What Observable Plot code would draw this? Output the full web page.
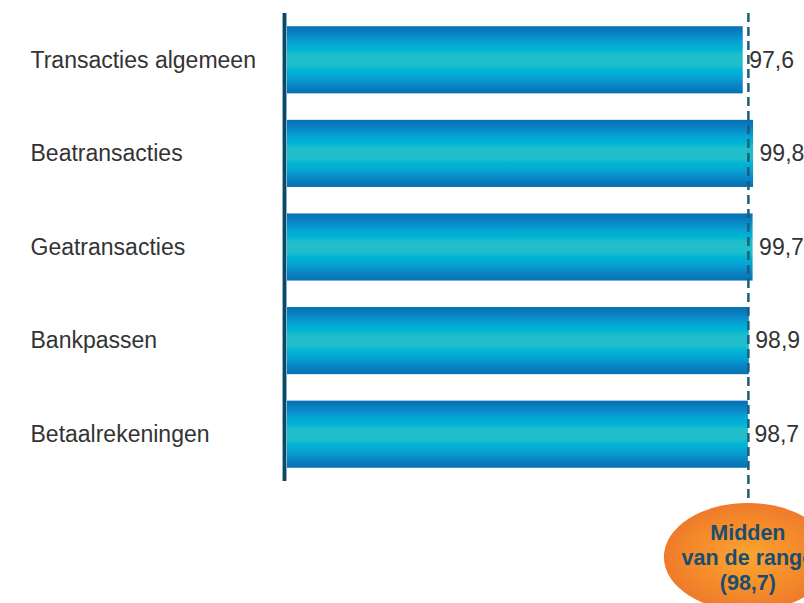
<!DOCTYPE html>
<html>
<head>
<meta charset="utf-8">
<script src="https://cdn.jsdelivr.net/npm/d3@7"></script>
<script src="https://cdn.jsdelivr.net/npm/@observablehq/plot@0.6"></script>
<style>
  html, body { margin: 0; padding: 0; background: #ffffff; }
</style>
</head>
<body>
<div id="chart"></div>
<script>
const categories = ["Transacties algemeen", "Beatransacties", "Geatransacties", "Bankpassen", "Betaalrekeningen"];
const values = [97.6, 99.8, 99.7, 98.9, 98.7];
const midRange = 98.7;
const midLabel = ["Midden", "van de range", "(98,7)"];

const fmt = v => v.toFixed(1).replace(".", ",");
const data = categories.map((c, i) => ({cat: c, value: values[i], label: fmt(values[i])}));

const ellipseMark = (index, scales, vals, dims) => {
  const cx = scales.x(midRange);
  const cy = 557;
  const g = d3.create("svg:g");
  g.append("ellipse")
    .attr("cx", cx).attr("cy", cy).attr("rx", 84).attr("ry", 54)
    .attr("fill", "url(#ellGrad)");
  g.append("text")
    .attr("text-anchor", "middle")
    .attr("font-family", "'Liberation Sans', Arial, sans-serif")
    .attr("font-weight", "bold")
    .attr("font-size", 21.5)
    .attr("fill", "#1b4d6e")
    .selectAll("tspan")
    .data(midLabel)
    .join("tspan")
    .attr("x", cx)
    .attr("y", (d, i) => cy - 25 + i * 25)
    .attr("dy", "0.35em")
    .text(d => d);
  return g.node();
};

const chart = Plot.plot({
  width: 804,
  height: 603,
  marginLeft: 284,
  marginRight: 50,
  marginTop: 13,
  marginBottom: 122,
  style: {fontFamily: "'Liberation Sans', Arial, sans-serif", background: "#ffffff", overflow: "hidden"},
  x: {domain: [0, 100], axis: null},
  y: {domain: categories, axis: null, paddingInner: 0.283, paddingOuter: 0.1415, round: false},
  marks: [
    Plot.barX(data, {y: "cat", x: "value", fill: "url(#barGrad)"}),
    Plot.ruleX([0], {stroke: "#8fb2c4", strokeWidth: 5}),
    Plot.ruleX([0], {stroke: "#0b4866", strokeWidth: 3}),
    Plot.ruleX([midRange], {stroke: "#1d5d78", strokeWidth: 2.5, strokeDasharray: "9,5", insetBottom: -19}),
    Plot.text(data, {y: "cat", x: "value", text: "label", dx: 6, textAnchor: "start", fontSize: 23, fill: "#333333"}),
    Plot.text(data, {y: "cat", text: "cat", frameAnchor: "left", dx: -254, textAnchor: "start", fontSize: 23, fill: "#333333"}),
    ellipseMark
  ]
});

const defs = d3.select(chart).insert("defs", ":first-child");
const lg = defs.append("linearGradient").attr("id", "barGrad")
  .attr("x1", 0).attr("y1", 0).attr("x2", 0).attr("y2", 1);
[[0, "#0670b2"], [0.12, "#0a84c5"], [0.25, "#05a5d3"], [0.35, "#00b5d4"], [0.42, "#20bdcb"],
 [0.58, "#20bdcb"], [0.65, "#00b5d4"], [0.75, "#05a5d3"], [0.88, "#0a84c5"], [1, "#0670b2"]]
  .forEach(([o, c]) => lg.append("stop").attr("offset", o).attr("stop-color", c));
const rg = defs.append("radialGradient").attr("id", "ellGrad")
  .attr("cx", 0.5).attr("cy", 0.5).attr("r", 0.5);
rg.append("stop").attr("offset", 0).attr("stop-color", "#f9a531");
rg.append("stop").attr("offset", 0.7).attr("stop-color", "#f4882a");
rg.append("stop").attr("offset", 1).attr("stop-color", "#ef7a2c");

document.getElementById("chart").appendChild(chart);
</script>
</body>
</html>
